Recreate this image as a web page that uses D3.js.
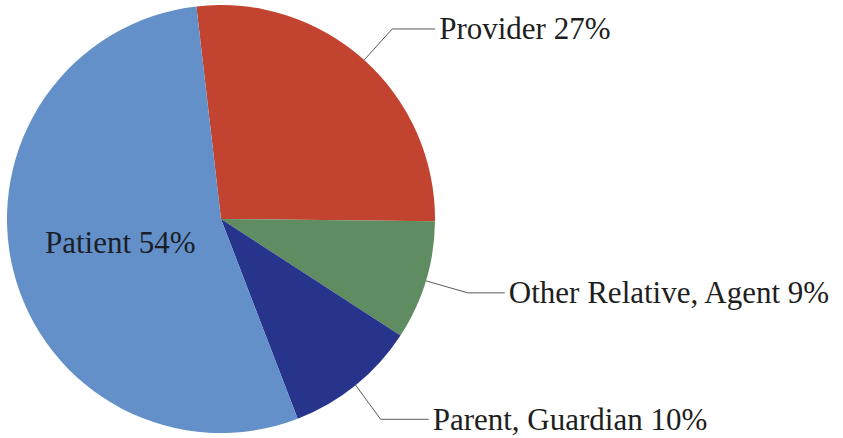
<!DOCTYPE html>
<html>
<head>
<meta charset="utf-8">
<script src="https://cdn.jsdelivr.net/npm/d3@7"></script>
<style>
  html, body { margin: 0; padding: 0; background: #fff; }
  svg { display: block; }
</style>
</head>
<body>
<svg id="chart"></svg>
<script>
// data
const categories = ["Provider", "Other Relative, Agent", "Parent, Guardian", "Patient"];
const shares = [27, 9, 10, 54];
const colors = ["#c2432f", "#5f8c60", "#27348c", "#6390c8"];

const width = 843, height = 438;
const cx = 221, cy = 219, radius = 214;
const startDeg = -6.6;

const svg = d3.select("#chart")
  .attr("width", width)
  .attr("height", height)
  .attr("viewBox", [0, 0, width, height]);

const pie = d3.pie()
  .sort(null)
  .value(d => d)
  .startAngle(startDeg * Math.PI / 180)
  .endAngle((startDeg + 360) * Math.PI / 180);

const arcs = pie(shares);
const arc = d3.arc().innerRadius(0).outerRadius(radius);

const g = svg.append("g").attr("transform", `translate(${cx},${cy})`);

g.selectAll("path")
  .data(arcs)
  .join("path")
    .attr("d", arc)
    .attr("fill", (d, i) => colors[i]);

// leader label layout: elbow offset from the arc point, length of the flat part
// (null => label sits inside the slice)
const labelLayout = [
  { elbow: [28, -31], flat: 43 },
  { elbow: [42, 12], flat: 37 },
  { elbow: [25, 34], flat: 48 },
  null
];

const font = "'Liberation Serif', 'Times New Roman', serif";

arcs.forEach((d, i) => {
  const text = `${categories[i]} ${shares[i]}%`;
  const mid = (d.startAngle + d.endAngle) / 2;
  const lay = labelLayout[i];
  if (lay) {
    const x0 = radius * Math.sin(mid), y0 = -radius * Math.cos(mid);
    const x1 = x0 + lay.elbow[0], y1 = y0 + lay.elbow[1];
    const x2 = x1 + lay.flat;
    g.append("polyline")
      .attr("points", [[x0, y0], [x1, y1], [x2, y1]].map(p => p.join(",")).join(" "))
      .attr("fill", "none")
      .attr("stroke", "#5a5a5a")
      .attr("stroke-width", 1);
    g.append("text")
      .attr("x", x2 + 4)
      .attr("y", y1)
      .attr("dy", "0.33em")
      .style("font-family", font)
      .style("font-size", "31px")
      .attr("fill", "#1e1e1e")
      .text(text);
  } else {
    // inside label for the big slice
    g.append("text")
      .attr("x", -176)
      .attr("y", 34)
      .style("font-family", font)
      .style("font-size", "31px")
      .attr("fill", "#1a1f2a")
      .text(text);
  }
});
</script>
</body>
</html>
